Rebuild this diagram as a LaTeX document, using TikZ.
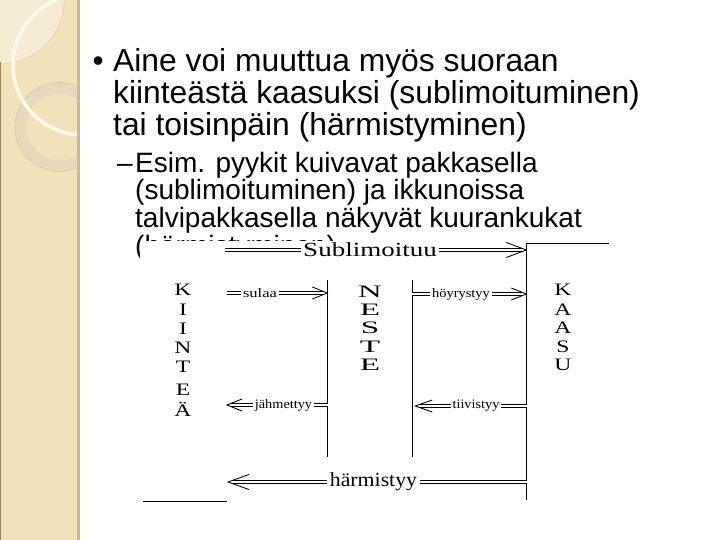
\documentclass[tikz,border=0pt]{standalone}
\usepackage{fontspec}
\usepackage{graphicx}
\usetikzlibrary{calc}
\newfontfamily\sansf{Liberation Sans}
\newfontfamily\tms{Liberation Serif}
\definecolor{barfill}{RGB}{242,226,186}
\definecolor{barlight}{RGB}{246,236,212}
\definecolor{baredge}{RGB}{200,186,152}
\definecolor{barleft}{RGB}{150,134,100}
\definecolor{ringfill}{RGB}{230,218,188}
\definecolor{ringedge}{RGB}{214,199,163}
\definecolor{creamarc}{RGB}{255,250,236}
\tikzset{
  mainline/.style={anchor=base west, inner sep=0pt, font=\sansf\fontsize{31.8}{32}\selectfont},
  subline/.style={anchor=base west, inner sep=0pt, font=\sansf\fontsize{28}{28}\selectfont},
  letter/.style={inner sep=0pt, font=\tms\fontsize{17.5}{17.5}\selectfont},
  smalllbl/.style={fill=white, inner xsep=2pt, inner ysep=1pt, font=\tms\fontsize{13}{13}\selectfont},
  biglbl/.style={fill=white, inner xsep=2.5pt, inner ysep=0.5pt, font=\tms\fontsize{20}{20}\selectfont},
  dbl/.style={draw, double, double distance=1.8pt, line width=0.85pt},
  chev/.style={draw, line width=0.85pt, line join=miter},
  boxline/.style={draw, line width=0.9pt},
  phase/.style={draw=none, inner sep=0pt}
}
\begin{document}
\begin{tikzpicture}[x=1pt,y=-1pt]
\useasboundingbox (0,0) rectangle (720,540);
\fill[white] (0,0) rectangle (720,540);
% decorative side bar
\begin{scope}
  \clip (0,0) rectangle (77,540);
  \fill[barfill] (0,0) rectangle (77,540);
  \fill[barlight] (0,0) circle[radius=64];
  \draw[ringedge, line width=0.4pt] (0,0) circle[radius=64];
  \fill[ringfill, even odd rule] (59.5,127) circle[radius=44.5] (59.5,127) circle[radius=33];
  \draw[ringedge, line width=0.6pt] (59.5,127) circle[radius=44.5];
  \draw[creamarc, line width=3.5pt] (83,65) circle[radius=70];
\end{scope}
\fill[baredge] (77,0) rectangle (79.5,540);
\draw[barleft, line width=1pt] (0.5,62) -- (0.5,540);
% text
\node[anchor=base west, inner sep=0pt, font=\sansf\fontsize{31.5}{32}\selectfont] (bul) at (92.5,72) {•};
\node[mainline] (t1) at (113,72) {Aine voi muuttua myös suoraan};
\node[mainline] (t2) at (113,104) {kiinteästä kaasuksi (sublimoituminen)};
\node[mainline] (t3) at (113,136) {tai toisinpäin (härmistyminen)};
\node[subline] (dash) at (117,173) {–};
\node[subline] (s1) at (135,173) {Esim. pyykit kuivavat pakkasella};
\node[subline] (s2) at (135,200) {(sublimoituminen) ja ikkunoissa};
\node[subline] (s3) at (135,227) {talvipakkasella näkyvät kuurankukat};
\node[subline] (s4) at (135,255) {(härmistyminen)};
% pasted picture (white) covering the last line
\fill[white] (140,241) rectangle (616,506);
% phase boxes
\node[phase, minimum width=84pt, minimum height=177pt] (neste) at (370,368.5) {};
\draw[boxline] (neste.north west) -- (neste.south west);
\draw[boxline] (neste.north east) -- (neste.south east);
\node[phase, minimum width=82pt, minimum height=256pt] (kaasu) at (568,372) {};
\draw[boxline] (kaasu.south west) -- (kaasu.north west) -- (kaasu.north east);
\coordinate (blA) at (143,501);
\coordinate (blB) at (227,501);
\draw[line width=0.9pt] (blA) -- (blB);
% letters
\foreach \ch/\yy/\nm in {K/290/k1,I/310/k2,I/329/k3,N/348/k4,T/367/k5,E/390/k6,Ä/409/k7}
  \node[letter] (\nm) at (183,\yy) {\scalebox{1.35}[1]{\ch}};
\foreach \ch/\yy/\nm in {N/292/n1,E/310/n2,S/328/n3,T/347/n4,E/365/n5}
  \node[letter] (\nm) at (370,\yy) {\scalebox{1.9}[1]{\ch}};
\foreach \ch/\yy/\nm in {K/290/a1,A/310/a2,A/328/a3,S/347/a4,U/365/a5}
  \node[letter] (\nm) at (563,\yy) {\scalebox{1.35}[1]{\ch}};
% Sublimoituu
\coordinate (subA) at (225,250);
\coordinate (subB) at ($(kaasu.north west |- subA)+(-0.5,0)$);
\draw[dbl, shorten >=3.6pt] (subA) -- (subB);
\draw[chev] ($(subB)+(-20,7.5)$) -- (subB) -- ($(subB)+(-20,-7.5)$);
\node[biglbl] (lsub) at (370,250) {\scalebox{1.35}[1]{Sublimoituu}};
% sulaa
\coordinate (sulA) at (227,293);
\coordinate (sulB) at ($(neste.west |- sulA)+(-0.5,0)$);
\draw[dbl, shorten >=3.4pt] (sulA) -- (sulB);
\draw[chev] ($(sulB)+(-15,6)$) -- (sulB) -- ($(sulB)+(-15,-6)$);
\node[smalllbl] (lsul) at (260,293) {\scalebox{1.27}[1]{sulaa}};
% hoyrystyy
\coordinate (hoyA) at ($(neste.east |- 0,294)$);
\coordinate (hoyB) at ($(kaasu.west |- hoyA)+(-0.5,0)$);
\draw[dbl, shorten >=3.4pt] (hoyA) -- (hoyB);
\draw[chev] ($(hoyB)+(-15,6)$) -- (hoyB) -- ($(hoyB)+(-15,-6)$);
\node[smalllbl] (lhoy) at (461,294) {\scalebox{1.11}[1]{höyrystyy}};
% jahmettyy
\coordinate (jahA) at ($(neste.west |- 0,405)$);
\coordinate (jahB) at (227,405);
\draw[dbl, shorten >=3.4pt] (jahA) -- (jahB);
\draw[chev] ($(jahB)+(15,6)$) -- (jahB) -- ($(jahB)+(15,-6)$);
\node[smalllbl] (ljah) at (283.5,405) {\scalebox{1.1}[1]{jähmettyy}};
% tiivistyy
\coordinate (tiiA) at ($(kaasu.west |- 0,406)$);
\coordinate (tiiB) at ($(neste.east |- tiiA)+(3,0)$);
\draw[dbl, line width=1.1pt, shorten >=3.6pt] (tiiA) -- (tiiB);
\draw[chev] ($(tiiB)+(17,6)$) -- (tiiB) -- ($(tiiB)+(17,-6)$);
\node[smalllbl] (ltii) at (476,406) {\scalebox{1.1}[1]{tiivistyy}};
% harmistyy
\coordinate (harA) at ($(kaasu.west |- 0,482)$);
\coordinate (harB) at (228,482);
\draw[dbl, shorten >=3.6pt] (harA) -- (harB);
\draw[chev] ($(harB)+(21,7.5)$) -- (harB) -- ($(harB)+(21,-7.5)$);
\node[biglbl] (lhar) at (373.5,482) {\scalebox{1.09}[1]{härmistyy}};
\end{tikzpicture}
\end{document}
